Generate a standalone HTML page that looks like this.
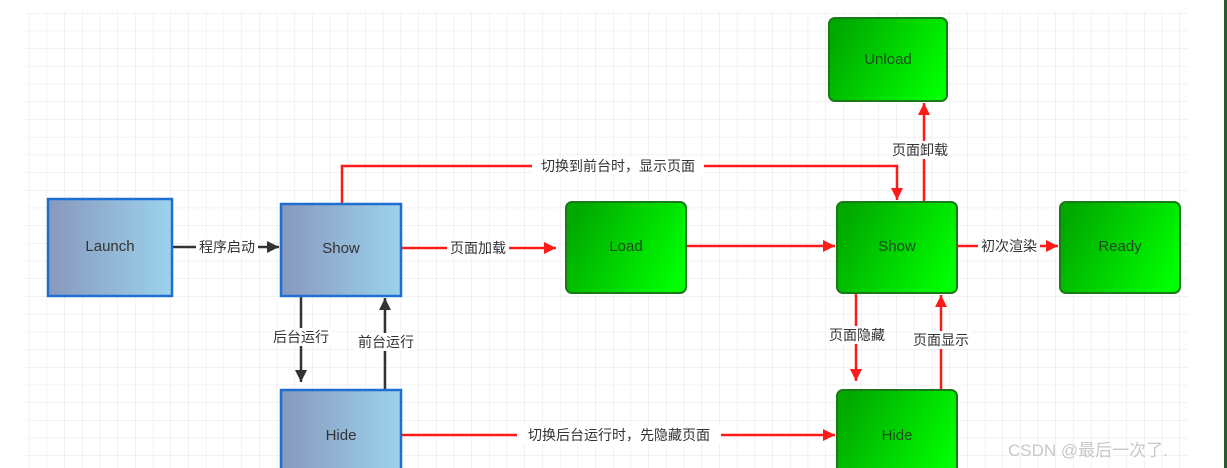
<!DOCTYPE html>
<html><head><meta charset="utf-8"><style>
html,body{margin:0;padding:0;background:#fff;}
svg{display:block;}
text{font-family:"Liberation Sans","Noto Sans CJK SC",sans-serif;}
</style></head><body>
<svg width="1227" height="468" viewBox="0 0 1227 468" xmlns="http://www.w3.org/2000/svg">
<defs>
<pattern id="grid" x="11.2" y="13" width="17.7" height="17.7" patternUnits="userSpaceOnUse">
<path d="M0 0 H17.7 M0 0 V17.7" stroke="#e6e6e6" stroke-width="1" fill="none"/>
</pattern>
<linearGradient id="blue" x1="0" y1="0" x2="1" y2="0">
<stop offset="0" stop-color="#8898bd"/><stop offset="1" stop-color="#9bd3ec"/>
</linearGradient>
<linearGradient id="green" x1="0" y1="0.3" x2="1" y2="0.7">
<stop offset="0" stop-color="#00a800"/><stop offset="1" stop-color="#00ff00"/>
</linearGradient>
<marker id="ar" viewBox="0 0 10 10" refX="10" refY="5" markerWidth="16" markerHeight="12" markerUnits="userSpaceOnUse" orient="auto"><path d="M0 0 L10 5 L0 10z" fill="#ff1a1a"/></marker>
<marker id="ab" viewBox="0 0 10 10" refX="10" refY="5" markerWidth="16" markerHeight="12" markerUnits="userSpaceOnUse" orient="auto"><path d="M0 0 L10 5 L0 10z" fill="#333"/></marker>
</defs>
<rect x="26" y="12" width="1162" height="456" fill="url(#grid)"/>
<rect x="1224" y="0" width="3" height="468" fill="#2a5a2a"/>

<!-- connectors black -->
<g stroke="#333" stroke-width="2.5" fill="none">
<line x1="172" y1="247" x2="279" y2="247" marker-end="url(#ab)"/>
<line x1="301" y1="296" x2="301" y2="382" marker-end="url(#ab)"/>
<line x1="385" y1="390" x2="385" y2="298" marker-end="url(#ab)"/>
</g>
<!-- connectors red -->
<g stroke="#ff1a1a" stroke-width="2.5" fill="none">
<polyline points="342,204 342,166 897,166 897,200" marker-end="url(#ar)"/>
<line x1="401" y1="248" x2="556" y2="248" marker-end="url(#ar)"/>
<line x1="686" y1="246" x2="835" y2="246" marker-end="url(#ar)"/>
<line x1="957" y1="246" x2="1058" y2="246" marker-end="url(#ar)"/>
<line x1="924" y1="202" x2="924" y2="103" marker-end="url(#ar)"/>
<line x1="856" y1="293" x2="856" y2="381" marker-end="url(#ar)"/>
<line x1="941" y1="390" x2="941" y2="295" marker-end="url(#ar)"/>
<line x1="401" y1="435" x2="835" y2="435" marker-end="url(#ar)"/>
</g>

<!-- label backgrounds + labels -->
<g font-size="14" fill="#333" text-anchor="middle">
<rect x="196" y="238" width="62" height="18" fill="#fff"/><text x="227" y="252">程序启动</text>
<rect x="270" y="328" width="62" height="18" fill="#fff"/><text x="301" y="342">后台运行</text>
<rect x="355" y="333" width="62" height="18" fill="#fff"/><text x="386" y="347">前台运行</text>
<rect x="447" y="239" width="62" height="18" fill="#fff"/><text x="478" y="253">页面加载</text>
<rect x="532" y="157" width="172" height="18" fill="#fff"/><text x="618" y="171">切换到前台时，显示页面</text>
<rect x="517" y="426" width="204" height="18" fill="#fff"/><text x="619" y="440">切换后台运行时，先隐藏页面</text>
<rect x="889" y="141" width="62" height="18" fill="#fff"/><text x="920" y="155">页面卸载</text>
<rect x="978" y="237" width="62" height="18" fill="#fff"/><text x="1009" y="251">初次渲染</text>
<rect x="826" y="326" width="62" height="18" fill="#fff"/><text x="857" y="340">页面隐藏</text>
<rect x="910" y="331" width="62" height="18" fill="#fff"/><text x="941" y="345">页面显示</text>
</g>

<!-- blue nodes -->
<g stroke="#1f6fd0" stroke-width="2.5" fill="url(#blue)">
<rect x="48" y="199" width="124" height="97"/>
<rect x="281" y="204" width="120" height="92"/>
<rect x="281" y="390" width="120" height="90"/>
</g>
<!-- green nodes -->
<g stroke="#1a7a1a" stroke-width="2" fill="url(#green)">
<rect x="566" y="202" width="120" height="91" rx="6"/>
<rect x="837" y="202" width="120" height="91" rx="6"/>
<rect x="1060" y="202" width="120" height="91" rx="6"/>
<rect x="829" y="18" width="118" height="83" rx="6"/>
<rect x="837" y="390" width="120" height="90" rx="6"/>
</g>
<g font-size="15" text-anchor="middle" fill="#333">
<text x="110" y="251">Launch</text>
<text x="341" y="253">Show</text>
<text x="341" y="440">Hide</text>
</g>
<g font-size="15" text-anchor="middle" fill="#1f4a1f">
<text x="626" y="251">Load</text>
<text x="897" y="251">Show</text>
<text x="1120" y="251">Ready</text>
<text x="888" y="64">Unload</text>
<text x="897" y="440">Hide</text>
</g>
<text x="1008" y="456" font-size="17" fill="#c8c8c8" style="font-family:'Liberation Sans','Noto Sans CJK SC',sans-serif">CSDN @最后一次了.</text>
</svg>
</body></html>
